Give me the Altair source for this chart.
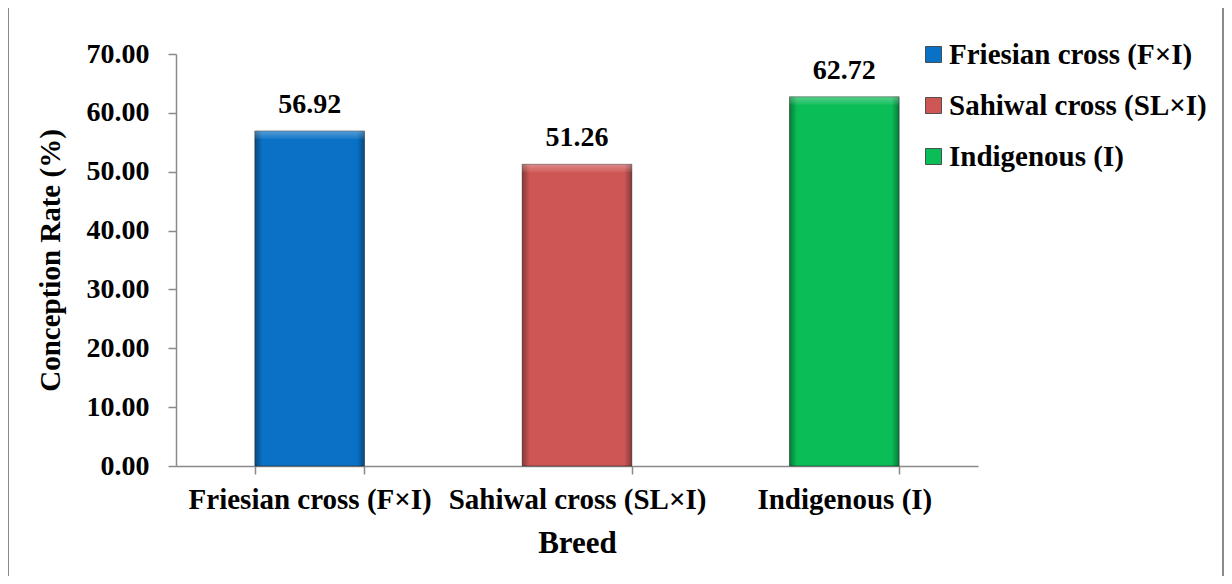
import altair as alt
import pandas as pd

breeds = ["Friesian cross (F×I)", "Sahiwal cross (SL×I)", "Indigenous (I)"]
rates = [56.92, 51.26, 62.72]
colors = ["#0A72C6", "#CE5755", "#0BBD57"]
y_ticks = [0, 10, 20, 30, 40, 50, 60, 70]

df = pd.DataFrame({"breed": breeds, "rate": rates})
FONT = "Times New Roman, Liberation Serif, DejaVu Serif, serif"

x_enc = alt.X(
    "breed:N", sort=breeds,
    scale=alt.Scale(paddingInner=0.59, paddingOuter=0.295),
    axis=alt.Axis(title="Breed", labelAngle=0, tickBand="extent", tickSize=8,
                  labelPadding=11, titlePadding=14, labelFontSize=29,
                  titleFontSize=31, labelLimit=400),
)
y_enc = alt.Y(
    "rate:Q", scale=alt.Scale(domain=[0, 70]),
    axis=alt.Axis(title="Conception Rate (%)", values=y_ticks, format=".2f",
                  tickSize=8, labelPadding=19, titlePadding=21, grid=False,
                  labelFontSize=28, titleFontSize=29),
)

bars = alt.Chart(df).mark_bar(stroke="#1a1a1a", strokeWidth=0.8, strokeOpacity=0.6).encode(
    x=x_enc, y=y_enc,
    color=alt.Color("breed:N", sort=breeds,
                    scale=alt.Scale(domain=breeds, range=colors),
                    legend=alt.Legend(title=None, orient="none", legendX=743, legendY=-14,
                                      symbolType="square", symbolSize=256,
                                      symbolStrokeColor="#333", symbolStrokeWidth=0.8,
                                      labelFont=FONT, labelFontWeight="bold",
                                      labelFontSize=29, labelColor="black",
                                      labelOffset=1, rowPadding=21, labelLimit=400)),
)

side_shade = alt.Chart(df).mark_bar(
    color=alt.Gradient(gradient="linear", x1=0, x2=1, y1=0, y2=0, stops=[
        alt.GradientStop(color="rgba(0,0,0,0.35)", offset=0),
        alt.GradientStop(color="rgba(0,0,0,0.0)", offset=0.07),
        alt.GradientStop(color="rgba(0,0,0,0.0)", offset=0.93),
        alt.GradientStop(color="rgba(0,0,0,0.35)", offset=1),
    ])
).encode(x=alt.X("breed:N", sort=breeds), y="rate:Q")

top_band = alt.Chart(df).transform_calculate(
    top2="datum.rate - 1.35"
).mark_bar(
    color=alt.Gradient(gradient="linear", x1=0, x2=0, y1=0, y2=1, stops=[
        alt.GradientStop(color="rgba(255,255,255,0.30)", offset=0),
        alt.GradientStop(color="rgba(255,255,255,0.05)", offset=1),
    ])
).encode(x=alt.X("breed:N", sort=breeds), y="rate:Q", y2="top2:Q")

labels = alt.Chart(df).mark_text(
    dy=-18, baseline="alphabetic", font=FONT, fontWeight="bold", fontSize=28, color="black"
).encode(x=alt.X("breed:N", sort=breeds), y="rate:Q", text=alt.Text("rate:Q", format=".2f"))

border = alt.Chart(pd.DataFrame({"a": [0]})).mark_rect(
    fill=None, stroke="#8a8a8a", strokeWidth=2
).encode(x=alt.value(-168), x2=alt.value(1047), y=alt.value(-47), y2=alt.value(540))

chart = alt.layer(border, bars, side_shade, top_band, labels).properties(
    width=802, height=412,
    padding={"left": 168, "top": 46, "right": 246, "bottom": 110},
    autosize=alt.AutoSizeParams(type="none"),
).configure_view(stroke=None).configure_axis(
    labelFont=FONT, titleFont=FONT, labelFontWeight="bold", titleFontWeight="bold",
    labelColor="black", titleColor="black", domainColor="#8a8a8a", tickColor="#8a8a8a",
    domainWidth=1.5, tickWidth=1.5,
)

chart.save("out.html", embed_options={"renderer": "svg", "actions": False})
